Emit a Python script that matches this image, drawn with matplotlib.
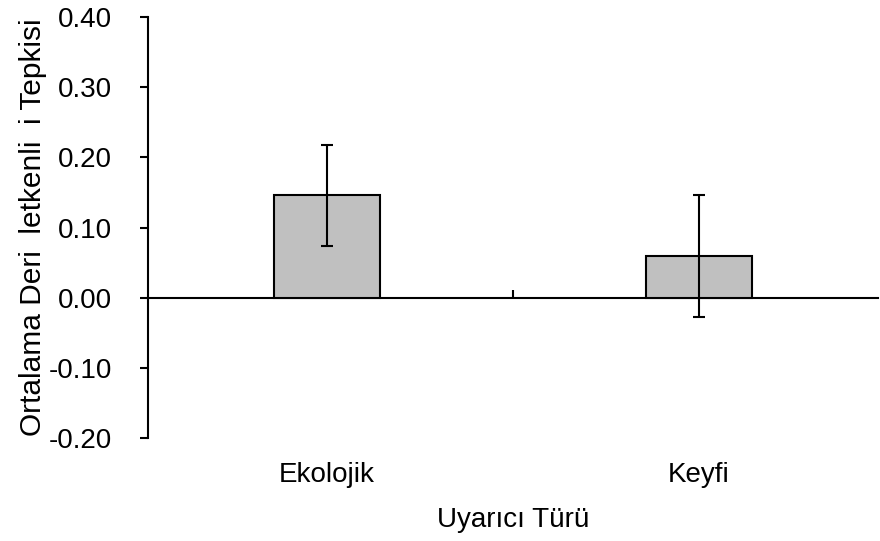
import matplotlib
matplotlib.use("Agg")
import matplotlib.pyplot as plt

categories = ["Ekolojik", "Keyfi"]
means = [0.146, 0.060]
errors = [0.072, 0.087]
yticks = [-0.20, -0.10, 0.00, 0.10, 0.20, 0.30, 0.40]
ylabel = "Ortalama Deri  letkenli  i Tepkisi"
xlabel = "Uyarıcı Türü"

plt.rcParams['font.family'] = ['Liberation Sans', 'DejaVu Sans']
FS = 20

fig = plt.figure(figsize=(8.8, 5.41), dpi=100)
ax = fig.add_axes([148/880, 1-438/541, 730/880, (438-17)/541])

x = list(range(len(categories)))
ax.bar(x, means, width=0.285, color="#C0C0C0", edgecolor="black", linewidth=1.5, zorder=2)
ax.errorbar(x, means, yerr=errors, fmt="none", ecolor="black", elinewidth=1.5,
            capsize=4, capthick=1.5, zorder=3)

ymin, ymax = -0.2, 0.4
ax.set_ylim(ymin, ymax)
ax.set_xlim(-0.482, 1.483)
ax.set_yticks(yticks)
ax.set_yticklabels([f"{v:.2f}" for v in yticks], fontsize=FS)
ax.tick_params(axis="y", direction="out", length=6, width=1.5, pad=20)

for s in ["top", "right", "bottom"]:
    ax.spines[s].set_visible(False)
ax.spines["left"].set_linewidth(1.5)

ax.set_xticks(x)
ax.set_xticklabels(categories, fontsize=FS)
ax.tick_params(axis="x", length=0, pad=17)

# x-axis line at zero with a tick between categories
sec = ax.secondary_xaxis((0 - ymin) / (ymax - ymin))
sec.spines["bottom"].set_linewidth(1.5)
sec.set_xticks([0.5])
sec.set_xticklabels([""])
sec.tick_params(direction="in", length=6, width=1.5)

ax.set_xlabel(xlabel, fontsize=FS, labelpad=14)
ax.set_ylabel(ylabel, fontsize=21.5, labelpad=1)

fig.savefig("out.png", dpi=100)
